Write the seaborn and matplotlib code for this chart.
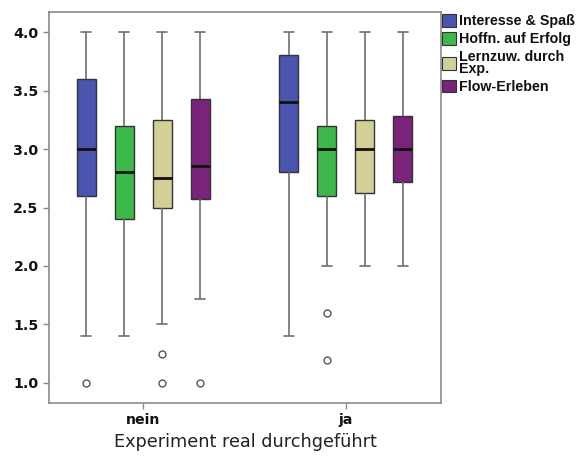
import numpy as np
import pandas as pd
import seaborn as sns
import matplotlib
matplotlib.use("Agg")
import matplotlib.pyplot as plt
from matplotlib.patches import Patch

# ---- data (sorted samples per group / scale) ----
groups = ["nein", "ja"]
scales = ["Interesse & Spaß", "Hoffn. auf Erfolg", "Lernzuw. durch\nExp.", "Flow-Erleben"]
colors = ["#4A55B0", "#3DB84A", "#D3CF99", "#7A237B"]

nein_interesse = [1.0, 1.4, 2.2, 2.6, 2.8, 3.0, 3.0, 3.2, 3.4, 3.6, 3.8, 4.0, 4.0]
nein_hoffn     = [1.4, 2.0, 2.2, 2.4, 2.6, 2.8, 2.8, 3.0, 3.0, 3.2, 3.4, 3.8, 4.0]
nein_lernzuw   = [1.0, 1.25, 1.5, 2.5, 2.5, 2.75, 2.75, 3.0, 3.0, 3.25, 3.5, 3.75, 4.0]
nein_flow      = [1.0, 1.714, 2.286, 2.571, 2.714, 2.857, 2.857, 3.0, 3.143, 3.429, 3.714, 4.0, 4.0]
ja_interesse   = [1.4, 2.2, 2.6, 2.8, 3.0, 3.2, 3.4, 3.6, 3.6, 3.8, 4.0, 4.0, 4.0]
ja_hoffn       = [1.2, 1.6, 2.0, 2.6, 2.8, 3.0, 3.0, 3.0, 3.2, 3.2, 3.4, 3.8, 4.0]
ja_lernzuw     = [2.0, 2.25, 2.5, 2.625, 2.75, 3.0, 3.0, 3.0, 3.25, 3.25, 3.5, 3.75, 4.0]
ja_flow        = [2.0, 2.286, 2.571, 2.714, 2.857, 3.0, 3.0, 3.0, 3.143, 3.286, 3.571, 3.857, 4.0]

yticks = [1.0, 1.5, 2.0, 2.5, 3.0, 3.5, 4.0]

samples = {
    ("nein", scales[0]): nein_interesse,
    ("nein", scales[1]): nein_hoffn,
    ("nein", scales[2]): nein_lernzuw,
    ("nein", scales[3]): nein_flow,
    ("ja", scales[0]): ja_interesse,
    ("ja", scales[1]): ja_hoffn,
    ("ja", scales[2]): ja_lernzuw,
    ("ja", scales[3]): ja_flow,
}
rows = []
for (g, s), vals in samples.items():
    for v in vals:
        rows.append({"Experiment": g, "Skala": s, "Wert": v})
df = pd.DataFrame(rows)

sns.set_style("white")
plt.rcParams["font.family"] = ["DejaVu Sans"]

fig = plt.figure(figsize=(5.77, 4.57), dpi=100)
ax = fig.add_axes([49 / 577, 1 - 403 / 457, (441 - 49) / 577, (403 - 12) / 457])

sns.boxplot(
    data=df, x="Experiment", y="Wert", hue="Skala",
    order=groups, hue_order=scales, palette=colors, saturation=1,
    width=0.75, gap=0.5, linecolor="#333333", linewidth=1.0,
    whis=1.5, ax=ax,
    whiskerprops=dict(color="#6e6e6e", linewidth=1.2),
    capprops=dict(color="#6e6e6e", linewidth=1.2),
    medianprops=dict(color="#111111", linewidth=2.0),
    flierprops=dict(marker="o", markersize=5, markerfacecolor="white",
                    markeredgecolor="#555555", markeredgewidth=1.0),
    legend=False,
)

ax.set_xlim(-0.465, 1.47)
ax.set_ylim(0.829, 4.171)
ax.set_yticks(yticks)
ax.set_yticklabels([f"{t:.1f}" for t in yticks])
ax.set_ylabel("")
ax.set_xlabel("Experiment real durchgeführt", fontsize=12.7, color="#222222", labelpad=4)

for side in ["top", "right", "left", "bottom"]:
    ax.spines[side].set_visible(True)
    ax.spines[side].set_color("#8a8a8a")
    ax.spines[side].set_linewidth(1.2)

ax.tick_params(axis="both", which="both", direction="out", length=4, width=1,
               color="#8a8a8a", labelsize=10.2, labelcolor="#111111",
               left=True, bottom=True)
for lbl in ax.get_xticklabels() + ax.get_yticklabels():
    lbl.set_fontweight("bold")

handles = [Patch(facecolor=c, edgecolor="#333333", linewidth=0.8) for c in colors]
leg = ax.legend(handles, scales, loc="upper left", bbox_to_anchor=(1.003, 0.995),
                frameon=False, borderpad=0, borderaxespad=0, handlelength=1.0,
                handleheight=1.0, handletextpad=0.15, labelspacing=0.25,
                prop={"family": "Liberation Sans", "weight": "bold", "size": 10.3})
for t in leg.get_texts():
    t.set_linespacing(0.85)
    t.set_color("#111111")

fig.savefig("out.png", dpi=100)
